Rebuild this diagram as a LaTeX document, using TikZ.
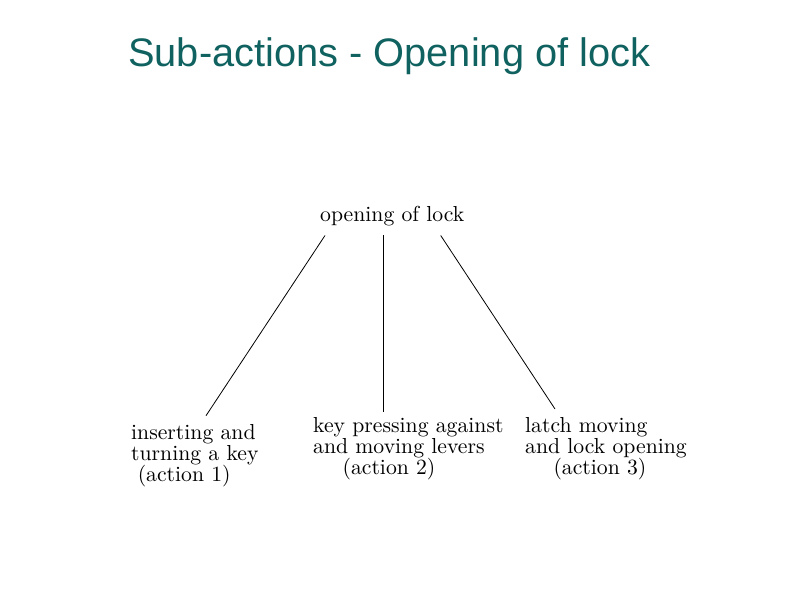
\documentclass[tikz,border=0pt]{standalone}
\usepackage{fontspec}
\newfontfamily\titlefont{Liberation Sans}
\newfontfamily\treefont[Extension=.otf]{lmroman10-regular}
\usetikzlibrary{calc}
\definecolor{teal}{RGB}{16,98,96}

\begin{document}
\begin{tikzpicture}[x=1pt, y=1pt, every node/.style={inner sep=0pt, font=\treefont\fontsize{21.7}{20.8}\selectfont},
    leaf/.style={align=left, anchor=north west}]
      \useasboundingbox (0,0) rectangle (794,-595);
      \node[anchor=base west, text=teal, font=\titlefont\fontsize{39.8}{44}\selectfont] (title) at (128,-66) {Sub-actions - Opening of lock};
      \node[anchor=base west] (root) at (320,-221.3) {opening of lock};
      \node[leaf] (act1) at (131,-424.2) {inserting and\\turning a key\\\hspace*{6.6pt}(action 1)};
      \node[leaf] (act2) at (313,-417.2) {key pressing against\\and moving levers\\\hspace*{29.4pt}(action 2)};
      \node[leaf] (act3) at (525,-417.2) {latch moving\\and lock opening\\\hspace*{28.3pt}(action 3)};
      \draw[line width=0.8pt] ($(root.south west)+(5,-9.5)$) -- ($(act1.north west)+(75,8.5)$);
      \draw[line width=0.8pt] ($(root.south west)+(63.3,-9.5)$) -- ($(act2.north west)+(70.3,5.5)$);
      \draw[line width=0.8pt] ($(root.south west)+(120.7,-9.5)$) -- ($(act3.north west)+(30,8.2)$);
    \end{tikzpicture}
\end{document}
